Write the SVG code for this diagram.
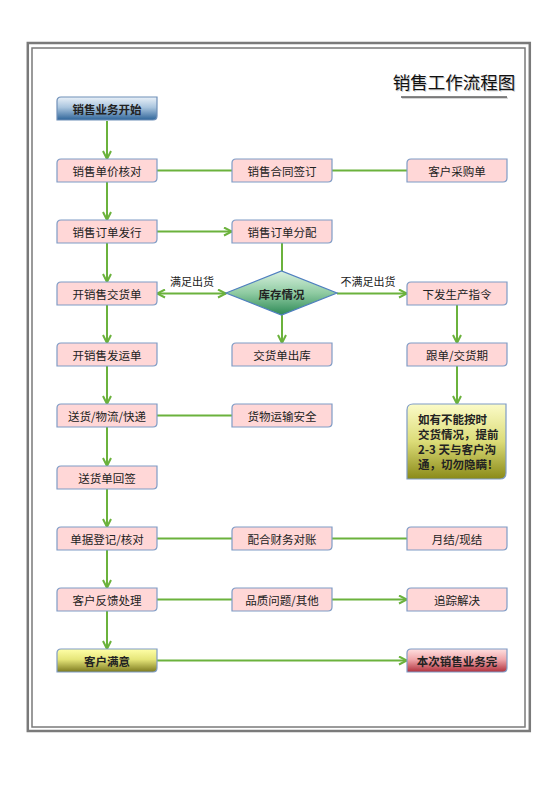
<svg xmlns="http://www.w3.org/2000/svg" xmlns:xlink="http://www.w3.org/1999/xlink" width="560" height="792" viewBox="0 0 560 792">
<style>
.t{font-family:"Noto Sans CJK SC","Liberation Sans",sans-serif;font-size:11.5px;fill:#222;text-anchor:middle;dominant-baseline:central}
.b{font-weight:600}
.pink{fill:#ffd7d7;stroke:#7f9cc6;stroke-width:1.2}
.ln{stroke:#6bb23c;stroke-width:2;fill:none}
.lbl{font-family:"Noto Sans CJK SC","Liberation Sans",sans-serif;font-size:11px;fill:#222;text-anchor:middle;dominant-baseline:central}
</style>
<defs>
<path id="box" d="M4,0 H100 V19 Q100,23 96,23 H0 V4 Q0,0 4,0 Z"/>
<linearGradient id="gBlue" x1="0" y1="0" x2="0" y2="1">
<stop offset="0" stop-color="#eaf1f8"/><stop offset="0.45" stop-color="#aac5de"/><stop offset="1" stop-color="#2f659a"/>
</linearGradient>
<linearGradient id="gYel" x1="0" y1="0" x2="0" y2="1">
<stop offset="0" stop-color="#ffffa8"/><stop offset="0.45" stop-color="#e6e67a"/><stop offset="1" stop-color="#7c7a1e"/>
</linearGradient>
<linearGradient id="gRed" x1="0" y1="0" x2="0" y2="1">
<stop offset="0" stop-color="#ffe0e0"/><stop offset="0.45" stop-color="#f0a8ac"/><stop offset="1" stop-color="#b0303c"/>
</linearGradient>
<linearGradient id="gNote" x1="0" y1="0" x2="0" y2="1">
<stop offset="0" stop-color="#fbfbc8"/><stop offset="0.5" stop-color="#dcdc78"/><stop offset="1" stop-color="#8a8a18"/>
</linearGradient>
<linearGradient id="gDia" x1="0" y1="0" x2="0" y2="1">
<stop offset="0" stop-color="#d8f0de"/><stop offset="0.5" stop-color="#8fcba2"/><stop offset="1" stop-color="#2e8a56"/>
</linearGradient>
<marker id="ar" viewBox="0 0 10 10" refX="9" refY="5" markerWidth="10" markerHeight="10" markerUnits="userSpaceOnUse" orient="auto-start-reverse">
<path d="M1,1 L9,5 L1,9" fill="none" stroke="#6bb23c" stroke-width="2"/>
</marker>
</defs>
<rect width="560" height="792" fill="#fff"/>
<g id="frame" fill="none" stroke="#7a7a7a">
<rect x="27.8" y="43" width="502" height="688" stroke-width="2.5"/>
<rect x="32" y="48" width="493" height="679" stroke-width="1.5"/>
</g>
<g id="title">
<text x="455" y="90" font-family="'Noto Sans CJK SC',sans-serif" font-size="17.5" fill="#c8c8c8" text-anchor="middle">销售工作流程图</text>
<line x1="402" y1="98.2" x2="508" y2="98.2" stroke="#c8c8c8" stroke-width="1.2"/>
<text x="454" y="89" font-family="'Noto Sans CJK SC',sans-serif" font-size="17.5" fill="#111" text-anchor="middle">销售工作流程图</text>
<line x1="401" y1="97" x2="507" y2="97" stroke="#111" stroke-width="1.2"/>
</g>
<g id="connectors">
<line class="ln" x1="107" y1="121" x2="107" y2="159" marker-end="url(#ar)"/>
<line class="ln" x1="107" y1="182" x2="107" y2="220" marker-end="url(#ar)"/>
<line class="ln" x1="157" y1="170.5" x2="232" y2="170.5"/>
<line class="ln" x1="332" y1="170.5" x2="407" y2="170.5"/>
<line class="ln" x1="157" y1="231.5" x2="232" y2="231.5" marker-end="url(#ar)"/>
<line class="ln" x1="107" y1="243" x2="107" y2="282" marker-end="url(#ar)"/>
<line class="ln" x1="282" y1="243" x2="282" y2="271"/>
<line class="ln" x1="157" y1="293.5" x2="226" y2="293.5" marker-start="url(#ar)" marker-end="url(#ar)"/>
<line class="ln" x1="337" y1="293.5" x2="407" y2="293.5" marker-end="url(#ar)"/>
<line class="ln" x1="282" y1="315" x2="282" y2="343" marker-end="url(#ar)"/>
<line class="ln" x1="107" y1="305" x2="107" y2="343" marker-end="url(#ar)"/>
<line class="ln" x1="457" y1="305" x2="457" y2="343" marker-end="url(#ar)"/>
<line class="ln" x1="457" y1="366" x2="457" y2="404" marker-end="url(#ar)"/>
<line class="ln" x1="107" y1="366" x2="107" y2="404" marker-end="url(#ar)"/>
<line class="ln" x1="157" y1="415.5" x2="232" y2="415.5"/>
<line class="ln" x1="107" y1="427" x2="107" y2="466" marker-end="url(#ar)"/>
<line class="ln" x1="107" y1="489" x2="107" y2="527" marker-end="url(#ar)"/>
<line class="ln" x1="157" y1="538.5" x2="232" y2="538.5"/>
<line class="ln" x1="332" y1="538.5" x2="407" y2="538.5"/>
<line class="ln" x1="107" y1="550" x2="107" y2="588" marker-end="url(#ar)"/>
<line class="ln" x1="157" y1="599.5" x2="232" y2="599.5"/>
<line class="ln" x1="332" y1="599.5" x2="407" y2="599.5" marker-end="url(#ar)"/>
<line class="ln" x1="107" y1="611" x2="107" y2="649" marker-end="url(#ar)"/>
<line class="ln" x1="157" y1="660.5" x2="407" y2="660.5" marker-end="url(#ar)"/>
<text class="lbl" x="192" y="281">满足出货</text>
<text class="lbl" x="368" y="281">不满足出货</text>
</g>
<g id="n_start"><use xlink:href="#box" x="57" y="97" fill="url(#gBlue)" stroke="#6f8fb8" stroke-width="1.2"/><text class="t b" x="107" y="109">销售业务开始</text></g>
<g id="n_price"><use xlink:href="#box" class="pink" x="57" y="159"/><text class="t" x="107" y="171">销售单价核对</text></g>
<g id="n_contract"><use xlink:href="#box" class="pink" x="232" y="159"/><text class="t" x="282" y="171">销售合同签订</text></g>
<g id="n_purchase"><use xlink:href="#box" class="pink" x="407" y="159"/><text class="t" x="457" y="171">客户采购单</text></g>
<g id="n_order"><use xlink:href="#box" class="pink" x="57" y="220"/><text class="t" x="107" y="232">销售订单发行</text></g>
<g id="n_alloc"><use xlink:href="#box" class="pink" x="232" y="220"/><text class="t" x="282" y="232">销售订单分配</text></g>
<g id="n_delivnote"><use xlink:href="#box" class="pink" x="57" y="282"/><text class="t" x="107" y="294">开销售交货单</text></g>
<g id="n_stock"><path d="M226,293 L281.5,271 L337,293 L281.5,315 Z" fill="url(#gDia)" stroke="#4f7fbf" stroke-width="1.2"/><text class="t b" x="281.5" y="294">库存情况</text></g>
<g id="n_prod"><use xlink:href="#box" class="pink" x="407" y="282"/><text class="t" x="457" y="294">下发生产指令</text></g>
<g id="n_ship"><use xlink:href="#box" class="pink" x="57" y="343"/><text class="t" x="107" y="355">开销售发运单</text></g>
<g id="n_out"><use xlink:href="#box" class="pink" x="232" y="343"/><text class="t" x="282" y="355">交货单出库</text></g>
<g id="n_follow"><use xlink:href="#box" class="pink" x="407" y="343"/><text class="t" x="457" y="355">跟单/交货期</text></g>
<g id="n_send"><use xlink:href="#box" class="pink" x="57" y="404"/><text class="t" x="107" y="416">送货/物流/快递</text></g>
<g id="n_safe"><use xlink:href="#box" class="pink" x="232" y="404"/><text class="t" x="282" y="416">货物运输安全</text></g>
<g id="n_note"><path d="M413,404 H506 V473 Q506,479 500,479 H407 V410 Q407,404 413,404 Z" fill="url(#gNote)" stroke="#7f9cc6" stroke-width="1.2"/>
<text font-family="'Noto Sans CJK SC',sans-serif" font-size="11.5" font-weight="600" fill="#222"><tspan x="418" y="424">如有不能按时</tspan><tspan x="418" y="439">交货情况，提前</tspan><tspan x="418" y="454">2-3 天与客户沟</tspan><tspan x="418" y="469">通，切勿隐瞒！</tspan></text></g>
<g id="n_sign"><use xlink:href="#box" class="pink" x="57" y="466"/><text class="t" x="107" y="478">送货单回签</text></g>
<g id="n_reg"><use xlink:href="#box" class="pink" x="57" y="527"/><text class="t" x="107" y="539">单据登记/核对</text></g>
<g id="n_fin"><use xlink:href="#box" class="pink" x="232" y="527"/><text class="t" x="282" y="539">配合财务对账</text></g>
<g id="n_settle"><use xlink:href="#box" class="pink" x="407" y="527"/><text class="t" x="457" y="539">月结/现结</text></g>
<g id="n_feedback"><use xlink:href="#box" class="pink" x="57" y="588"/><text class="t" x="107" y="600">客户反馈处理</text></g>
<g id="n_quality"><use xlink:href="#box" class="pink" x="232" y="588"/><text class="t" x="282" y="600">品质问题/其他</text></g>
<g id="n_track"><use xlink:href="#box" class="pink" x="407" y="588"/><text class="t" x="457" y="600">追踪解决</text></g>
<g id="n_satisfied"><use xlink:href="#box" x="57" y="649" fill="url(#gYel)" stroke="#7f9cc6" stroke-width="1.2"/><text class="t b" x="107" y="661">客户满意</text></g>
<g id="n_end"><use xlink:href="#box" x="407" y="649" fill="url(#gRed)" stroke="#7f9cc6" stroke-width="1.2"/><text class="t b" x="457" y="661">本次销售业务完</text></g>
</svg>
